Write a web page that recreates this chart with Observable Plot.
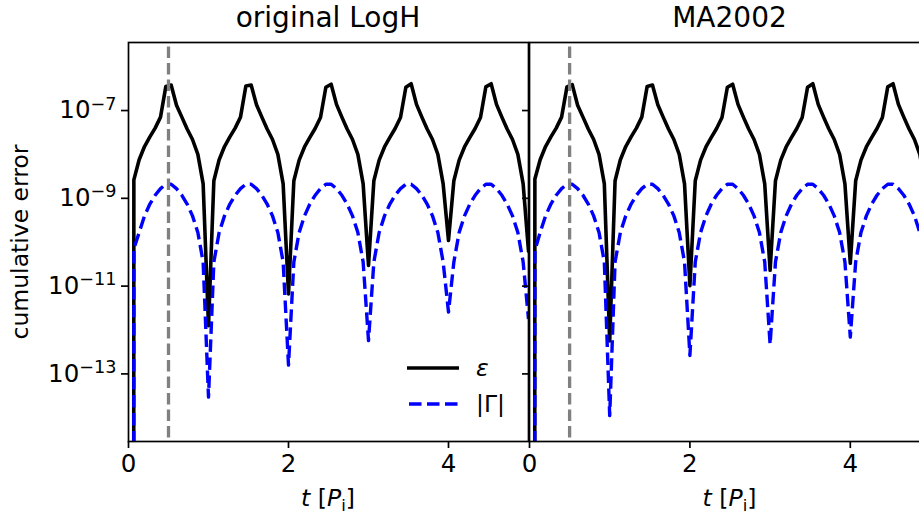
<!DOCTYPE html>
<html><head><meta charset="utf-8">
<script src="https://cdn.jsdelivr.net/npm/d3@7"></script>
<script src="https://cdn.jsdelivr.net/npm/@observablehq/plot@0.6"></script>
<style>
html,body{margin:0;padding:0;background:#fff;}
#fig{position:relative;width:919px;height:515px;overflow:hidden;background:#fff;font-family:"DejaVu Sans",sans-serif;}
#fig > svg{position:absolute;top:0;}
</style></head><body>
<div id="fig"></div>
<script>
// time in units of the inner period P_i
const t = [0,
0.067,0.133,0.2,0.267,0.333,0.4,0.467,0.533,0.6,0.667,0.733,0.8,0.867,0.933,1,
1.067,1.133,1.2,1.267,1.333,1.4,1.467,1.533,1.6,1.667,1.733,1.8,1.867,1.933,2,
2.067,2.133,2.2,2.267,2.333,2.4,2.467,2.533,2.6,2.667,2.733,2.8,2.867,2.933,3,
3.067,3.133,3.2,3.267,3.333,3.4,3.467,3.533,3.6,3.667,3.733,3.8,3.867,3.933,4,
4.067,4.133,4.2,4.267,4.333,4.4,4.467,4.533,4.6,4.667,4.733,4.8,4.867,4.933,5];

// log10 of the cumulative errors (-300 = zero, clipped on a log axis)
const epsLeftExp = [-300,
-8.58,-8.12,-7.82,-7.60,-7.40,-7.15,-6.45,-6.42,-6.88,-7.15,-7.42,-7.66,-8.00,-8.67,-11.90,
-8.60,-8.12,-7.82,-7.60,-7.40,-7.15,-6.44,-6.42,-6.87,-7.15,-7.42,-7.66,-8.00,-8.67,-11.18,
-8.60,-8.13,-7.83,-7.61,-7.41,-7.16,-6.47,-6.40,-6.86,-7.15,-7.42,-7.66,-8.00,-8.67,-10.53,
-8.60,-8.13,-7.83,-7.61,-7.41,-7.16,-6.47,-6.39,-6.86,-7.15,-7.42,-7.66,-8.00,-8.67,-9.96,
-8.60,-8.13,-7.83,-7.61,-7.41,-7.16,-6.46,-6.39,-6.86,-7.15,-7.42,-7.66,-8.00,-8.67,-10.20];

const gamLeftExp = [-300,
-10.15,-9.78,-9.40,-9.13,-8.93,-8.78,-8.68,-8.68,-8.78,-8.93,-9.13,-9.40,-9.78,-10.45,-13.53,
-10.45,-9.78,-9.40,-9.13,-8.93,-8.78,-8.68,-8.68,-8.78,-8.93,-9.13,-9.40,-9.78,-10.45,-12.80,
-10.45,-9.78,-9.40,-9.13,-8.93,-8.78,-8.68,-8.68,-8.78,-8.93,-9.13,-9.40,-9.78,-10.45,-12.24,
-10.45,-9.78,-9.40,-9.13,-8.93,-8.78,-8.68,-8.68,-8.78,-8.93,-9.13,-9.40,-9.78,-10.45,-11.59,
-10.45,-9.78,-9.40,-9.13,-8.93,-8.78,-8.68,-8.68,-8.78,-8.93,-9.13,-9.40,-9.78,-10.45,-11.75];

const epsRightExp = [-300,
-8.56,-8.12,-7.82,-7.60,-7.40,-7.15,-6.46,-6.41,-6.88,-7.15,-7.42,-7.66,-8.00,-8.67,-12.25,
-8.60,-8.12,-7.82,-7.60,-7.40,-7.15,-6.45,-6.42,-6.87,-7.15,-7.42,-7.66,-8.00,-8.67,-10.99,
-8.60,-8.13,-7.83,-7.61,-7.41,-7.16,-6.47,-6.40,-6.86,-7.15,-7.42,-7.66,-8.00,-8.67,-10.64,
-8.60,-8.13,-7.83,-7.61,-7.41,-7.16,-6.47,-6.39,-6.86,-7.15,-7.42,-7.66,-8.00,-8.67,-10.48,
-8.60,-8.13,-7.83,-7.61,-7.41,-7.16,-6.46,-6.39,-6.86,-7.15,-7.42,-7.66,-8.00,-8.67,-10.40];

const gamRightExp = [-300,
-10.19,-9.78,-9.40,-9.13,-8.93,-8.78,-8.68,-8.68,-8.78,-8.93,-9.13,-9.40,-9.78,-10.45,-13.95,
-10.45,-9.78,-9.40,-9.13,-8.93,-8.78,-8.68,-8.68,-8.78,-8.93,-9.13,-9.40,-9.78,-10.45,-12.58,
-10.45,-9.78,-9.40,-9.13,-8.93,-8.78,-8.68,-8.68,-8.78,-8.93,-9.13,-9.40,-9.78,-10.45,-12.33,
-10.45,-9.78,-9.40,-9.13,-8.93,-8.78,-8.68,-8.68,-8.78,-8.93,-9.13,-9.40,-9.78,-10.45,-12.16,
-10.45,-9.78,-9.40,-9.13,-8.93,-8.78,-8.68,-8.68,-8.78,-8.93,-9.13,-9.40,-9.78,-10.45,-12.00];

const panelTitles = ["original LogH", "MA2002"];
const xTicks = [0, 2, 4];
const yTicks = [1e-7, 1e-9, 1e-11, 1e-13];
const markerT = [0.5];
const xDomain = [0, 5];
const yDomain = [10 ** -14.54, 10 ** -5.45];
const yLabel = "cumulative error";
const legendLabels = ["ε", "|Γ|"];

function rows(epsExp, gamExp) {
  return t.map((ti, i) => ({t: ti, eps: 10 ** epsExp[i], gam: 10 ** gamExp[i]}));
}

function panel(data, {width, marginLeft, marginRight, showYLabels}) {
  const svg = Plot.plot({
    width, height: 490, marginLeft, marginRight, marginTop: 42, marginBottom: 49,
    style: {background: "transparent", fontFamily: "DejaVu Sans", fontSize: "24.5px", overflow: "visible", color: "black"},
    x: {domain: xDomain},
    y: {type: "log", domain: yDomain},
    marks: [
      Plot.line(data, {x: "t", y: "eps", stroke: "black", strokeWidth: 3.6, clip: true}),
      Plot.line(data, {x: "t", y: "gam", stroke: "blue", strokeWidth: 3.4, strokeDasharray: "12.5,5.5", strokeLinecap: "butt", clip: true}),
      Plot.ruleX(markerT, {stroke: "gray", strokeWidth: 3.3, strokeDasharray: "11.5,5", strokeDashoffset: 12, strokeLinecap: "butt"}),
      Plot.frame({stroke: "black", strokeWidth: 1.7}),
      Plot.axisX({ticks: xTicks, tickSize: 7, tickPadding: 6, strokeWidth: 1.7, label: null, tickFormat: d => String(d)}),
      Plot.axisY({ticks: yTicks, tickSize: 7, tickPadding: 5, strokeWidth: 1.7, label: null,
        tickFormat: showYLabels ? (d => "10^" + Math.round(Math.log10(d))) : (() => "")})
    ]
  });
  // typeset 10^n with a raised exponent
  d3.select(svg).selectAll('g[aria-label="y-axis tick label"] text').each(function () {
    const s = this.textContent;
    if (!s.includes("^")) return;
    const [b, e] = s.split("^");
    const el = d3.select(this);
    el.text("");
    el.append("tspan").text(b);
    el.append("tspan").attr("dy", "-0.5em").attr("font-size", "0.72em").text(e.replace("-", "\u2212"));
  });
  return svg;
}

const fig = document.getElementById("fig");
const left = panel(rows(epsLeftExp, gamLeftExp), {width: 530, marginLeft: 128, marginRight: 2, showYLabels: true});
left.style.left = "0px";
const right = panel(rows(epsRightExp, gamRightExp), {width: 431, marginLeft: 10, marginRight: 20, showYLabels: false});
right.style.left = "519px";
fig.appendChild(left);
fig.appendChild(right);

// overlay: titles, axis labels, legend
const ov = d3.select(fig).append("svg").attr("width", 919).attr("height", 515)
  .style("left", "0px").attr("font-family", "DejaVu Sans");
const centers = [328, 729.5];
panelTitles.forEach((s, i) => {
  ov.append("text").attr("x", centers[i]).attr("y", 27).attr("text-anchor", "middle")
    .attr("font-size", 28).text(s);
  const xl = ov.append("text").attr("x", centers[i]).attr("y", 506).attr("text-anchor", "middle").attr("font-size", 23.5);
  xl.append("tspan").attr("font-style", "italic").text("t");
  xl.append("tspan").text(" [");
  xl.append("tspan").attr("font-style", "italic").text("P");
  xl.append("tspan").attr("font-size", 16.5).attr("dy", 5).text("i");
  xl.append("tspan").attr("dy", -5).text("]");
});
ov.append("text").attr("transform", "translate(28,242) rotate(-90)").attr("text-anchor", "middle")
  .attr("font-size", 23.5).text(yLabel);
// legend
ov.append("line").attr("x1", 407).attr("x2", 459).attr("y1", 368).attr("y2", 368)
  .attr("stroke", "black").attr("stroke-width", 3.6);
ov.append("line").attr("x1", 409).attr("x2", 459).attr("y1", 404).attr("y2", 404)
  .attr("stroke", "blue").attr("stroke-width", 3.4).attr("stroke-dasharray", "12.5,5.5");
ov.append("text").attr("x", 476).attr("y", 376).attr("font-size", 23.5).attr("font-style", "italic").text(legendLabels[0]);
ov.append("text").attr("x", 476).attr("y", 412).attr("font-size", 23.5).text(legendLabels[1]);
</script>
</body></html>
